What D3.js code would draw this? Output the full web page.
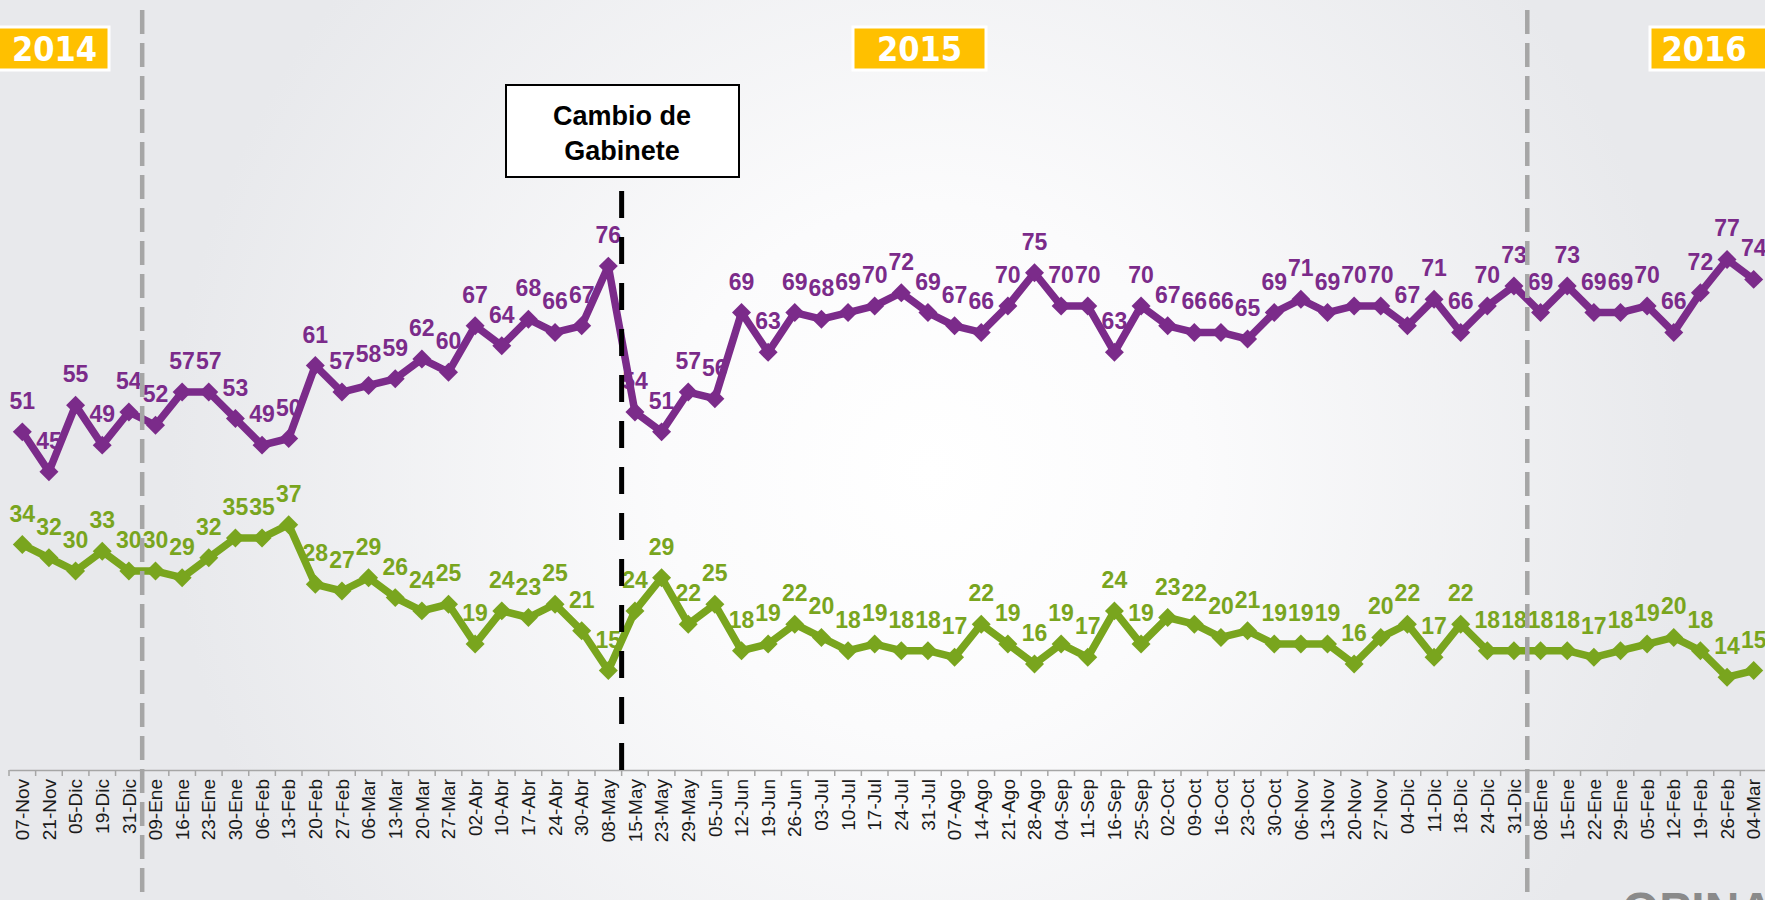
<!DOCTYPE html>
<html lang="es">
<head>
<meta charset="UTF-8" />
<title>Aprobación – Desaprobación</title>
<script src="https://d3js.org/d3.v7.min.js"></script>
<style>
  body { margin: 0; background: #e8e9eb; }
  svg { display: block; }
  .tick-label { font-family: "Liberation Sans", Arial, sans-serif; font-size: 19px; fill: #1a1a1a; }
  .val { font-family: "Liberation Sans", Arial, sans-serif; font-size: 23px; font-weight: bold; text-anchor: middle; }
  .year { font-family: "DejaVu Sans Condensed", "DejaVu Sans", sans-serif; font-stretch: condensed; font-size: 34px; font-weight: bold; fill: #fff; text-anchor: middle; }
  .note { font-family: "Liberation Sans", Arial, sans-serif; font-size: 27px; font-weight: bold; fill: #000; text-anchor: middle; }
</style>
</head>
<body>
<svg width="1765" height="900"></svg>
<script>
// semanas (eje x)
const dates = [
  '07-Nov', '21-Nov', '05-Dic', '19-Dic', '31-Dic',
  '09-Ene', '16-Ene', '23-Ene', '30-Ene', '06-Feb', '13-Feb', '20-Feb', '27-Feb',
  '06-Mar', '13-Mar', '20-Mar', '27-Mar', '02-Abr', '10-Abr', '17-Abr', '24-Abr',
  '30-Abr', '08-May', '15-May', '23-May', '29-May', '05-Jun', '12-Jun', '19-Jun',
  '26-Jun', '03-Jul', '10-Jul', '17-Jul', '24-Jul', '31-Jul', '07-Ago', '14-Ago',
  '21-Ago', '28-Ago', '04-Sep', '11-Sep', '16-Sep', '25-Sep', '02-Oct', '09-Oct',
  '16-Oct', '23-Oct', '30-Oct', '06-Nov', '13-Nov', '20-Nov', '27-Nov', '04-Dic',
  '11-Dic', '18-Dic', '24-Dic', '31-Dic',
  '08-Ene', '15-Ene', '22-Ene', '29-Ene', '05-Feb', '12-Feb', '19-Feb', '26-Feb', '04-Mar'
];

// desaprueba (morado)
const desaprueba = [
  51, 45, 55, 49, 54,
  52, 57, 57, 53, 49, 50, 61, 57, 58, 59, 62, 60, 67, 64, 68, 66, 67, 76,
  54, 51, 57, 56, 69, 63, 69, 68, 69, 70, 72, 69, 67, 66, 70, 75, 70, 70,
  63, 70, 67, 66, 66, 65, 69, 71, 69, 70, 70, 67, 71, 66, 70, 73,
  69, 73, 69, 69, 70, 66, 72, 77, 74
];

// aprueba (verde)
const aprueba = [
  34, 32, 30, 33, 30,
  30, 29, 32, 35, 35, 37, 28, 27, 29, 26, 24, 25, 19, 24, 23, 25, 21, 15,
  24, 29, 22, 25, 18, 19, 22, 20, 18, 19, 18, 18, 17, 22, 19, 16, 19, 17,
  24, 19, 23, 22, 20, 21, 19, 19, 19, 16, 20, 22, 17, 22, 18, 18,
  18, 18, 17, 18, 19, 20, 18, 14, 15
];

// índices donde empieza cada año y el cambio de gabinete (15-May)
const yearStarts = [5, 57];
const gabineteIdx = 23;

const years = [
  { label: '2014', x0: -4, x1: 109 },
  { label: '2015', x0: 853, x1: 986 },
  { label: '2016', x0: 1650, x1: 1770 }
];

const width = 1765, height = 900;
const axisY = 770;
const svg = d3.select('svg');

// fondo con degradado radial
const defs = svg.append('defs');
const grad = defs.append('radialGradient')
  .attr('id', 'bg')
  .attr('gradientUnits', 'userSpaceOnUse')
  .attr('cx', 930).attr('cy', 470).attr('r', 760);
grad.append('stop').attr('offset', 0).attr('stop-color', '#ffffff');
grad.append('stop').attr('offset', 0.35).attr('stop-color', '#fbfbfc');
grad.append('stop').attr('offset', 1).attr('stop-color', '#e8e9ec');
svg.append('rect').attr('width', width).attr('height', height).attr('fill', 'url(#bg)');

// escala por índice: hay fechas repetidas (31-Dic)
const idx = d3.range(dates.length);
const x = d3.scaleBand().domain(idx).range([9, 1767]).padding(0);
const y = d3.scaleLinear().domain([0, 100]).range([axisY, 107]);
const cx = i => x(i) + x.bandwidth() / 2;

// eje x
const axis = svg.append('g')
  .attr('transform', `translate(0,${axisY})`)
  .call(d3.axisBottom(x).tickSize(0).tickPadding(0).tickFormat(i => dates[i]));
axis.select('.domain').attr('stroke', '#a6a6a6').attr('stroke-width', 1.5);
axis.selectAll('text')
  .attr('class', 'tick-label')
  .attr('transform', 'rotate(-90)')
  .attr('text-anchor', 'end')
  .attr('x', -9)
  .attr('y', 0)
  .attr('dy', '0.35em');

// marcas entre categorías
svg.append('g')
  .selectAll('line')
  .data(idx)
  .join('line')
  .attr('x1', i => x(i)).attr('x2', i => x(i))
  .attr('y1', axisY).attr('y2', axisY + 6)
  .attr('stroke', '#a6a6a6').attr('stroke-width', 1.5);

const line = d3.line()
  .x((d, i) => cx(i))
  .y(d => y(d));

const diamond = d3.symbol().type(d3.symbolSquare).size(180);

function drawSeries(values, color) {
  const g = svg.append('g');
  g.append('path')
    .datum(values)
    .attr('d', line)
    .attr('fill', 'none')
    .attr('stroke', color)
    .attr('stroke-width', 7.5)
    .attr('stroke-linejoin', 'round');
  g.selectAll('path.mk')
    .data(values)
    .join('path')
    .attr('class', 'mk')
    .attr('d', diamond)
    .attr('fill', color)
    .attr('transform', (d, i) => `translate(${cx(i)},${y(d)}) rotate(45)`);
}

function drawLabels(values, color) {
  svg.append('g')
    .selectAll('text')
    .data(values)
    .join('text')
    .attr('class', 'val')
    .attr('fill', color)
    .attr('x', (d, i) => cx(i))
    .attr('y', d => y(d) - 23)
    .text(d => d);
}

drawSeries(aprueba, '#79a51e');
drawSeries(desaprueba, '#7b2b8a');
drawLabels(aprueba, '#79a51e');
drawLabels(desaprueba, '#7b2b8a');

// líneas de cambio de año
svg.append('g')
  .selectAll('line')
  .data(yearStarts)
  .join('line')
  .attr('x1', i => x(i)).attr('x2', i => x(i))
  .attr('y1', 10).attr('y2', height)
  .attr('stroke', '#a6a6a6')
  .attr('stroke-width', 4.5)
  .attr('stroke-dasharray', '24 9');

// cambio de gabinete
const cg = x(gabineteIdx);
svg.append('line')
  .attr('x1', cg).attr('x2', cg)
  .attr('y1', 191).attr('y2', axisY)
  .attr('stroke', '#000')
  .attr('stroke-width', 5)
  .attr('stroke-dasharray', '27 19');

svg.append('rect')
  .attr('x', 506).attr('y', 85)
  .attr('width', 233).attr('height', 92)
  .attr('fill', '#fff').attr('stroke', '#000').attr('stroke-width', 2);
svg.append('text').attr('class', 'note').attr('x', 622).attr('y', 125).text('Cambio de');
svg.append('text').attr('class', 'note').attr('x', 622).attr('y', 160).text('Gabinete');

// etiquetas de año
const yg = svg.append('g')
  .selectAll('g')
  .data(years)
  .join('g');
yg.append('rect')
  .attr('x', d => d.x0).attr('y', 27)
  .attr('width', d => d.x1 - d.x0).attr('height', 43)
  .attr('fill', '#ffc000')
  .attr('stroke', '#fff').attr('stroke-width', 3);
yg.append('text')
  .attr('class', 'year')
  .attr('x', d => (d.x0 + d.x1) / 2 + (d.label === '2016' ? -6 : d.label === '2014' ? 2 : 0))
  .attr('y', 61)
  .text(d => d.label);

// logotipo recortado abajo a la derecha
svg.append('text')
  .attr('x', 1622).attr('y', 926)
  .attr('font-family', 'Liberation Sans, Arial, sans-serif')
  .attr('font-size', 48).attr('font-weight', 'bold')
  .attr('fill', '#8a8a8a')
  .text('OPINA');
</script>
</body>
</html>
